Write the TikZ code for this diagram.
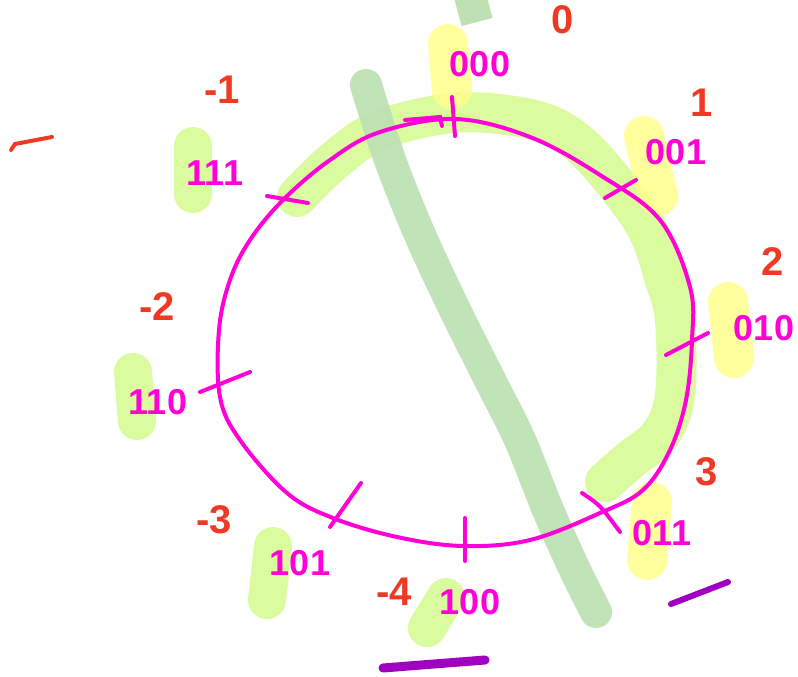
\documentclass[tikz,border=0pt]{standalone}
\usepackage{fontspec}
\setmainfont{Liberation Sans}
\definecolor{InkMagenta}{RGB}{255,0,214}
\definecolor{InkRed}{RGB}{238,58,36}
\definecolor{InkPurple}{RGB}{160,0,192}
\definecolor{HiYellow}{RGB}{255,255,140}
\definecolor{HiLime}{RGB}{218,251,158}
\definecolor{HiGreen}{RGB}{190,225,180}

\begin{document}
\begin{tikzpicture}[x=1pt,y=-1pt,
  bits/.style={text=InkMagenta,font=\fontsize{36}{36}\selectfont\bfseries,inner sep=0pt},
  val/.style={text=InkRed,font=\fontsize{40}{40}\selectfont\bfseries,inner sep=0pt},
  hlzero/.style={HiYellow,line width=40pt,line cap=round,opacity=.85},
  hlone/.style={HiLime,line width=38pt,line cap=round},
  cut/.style={InkMagenta,line width=4pt,line cap=round},
  underline/.style={InkPurple,line cap=round}]
  \clip (0,0) rectangle (798,677);
  % wide lime band over the right half
  \draw[HiLime,line width=40pt,line cap=round] plot[smooth,tension=0.6] coordinates
    {(297,197) (335,160) (380,130) (453,113) (520,117) (563,132) (600,165)
     (645,225) (665,280) (675,320) (675,395) (660,435) (630,460) (605,482)};
  % the split line
  \draw[HiGreen,line width=32pt,line cap=round,opacity=.95] plot[smooth] coordinates
    {(366,85) (390,160) (420,235) (455,310) (490,380) (520,440) (548,510) (575,570) (596,612)};
  \draw[HiGreen,line width=32pt] (477,22) -- (468,-12);
  % marks behind the leading bit
  \draw[hlzero] (448,44) -- (452,90);
  \draw[hlzero] (644,136) -- (658,196);
  \draw[hlzero] (728,302) -- (734,358);
  \draw[hlzero] (652,502) -- (647,560);
  \draw[hlone] (446,597) -- (427,628);
  \draw[hlone] (273,546) -- (267,600);
  \draw[hlone] (133,372) -- (137,421);
  \draw[hlone] (193,146) -- (193,194);
  % the ring
  \draw[InkMagenta,line width=4pt] plot[smooth cycle,tension=0.6] coordinates
    {(455,119) (530,137) (600,175) (660,220) (690,287) (692,340) (686,400)
     (670,450) (643,490) (600,513) (530,540) (463,546) (397,537) (333,518)
     (287,493) (240,440) (220,397) (219,330) (230,280) (250,240) (283,200)
     (330,160) (380,132)};
  \draw[cut] (405,120) -- (440,117) -- (442,126);
  \draw[cut] (452,97) -- (455,136);
  \draw[cut] (605,198) -- (636,180);
  \draw[cut] (666,355) -- (708,333);
  \draw[cut] (582,493) .. controls (600,505) .. (620,532);
  \draw[cut] (465,518) -- (465,561);
  \draw[cut] (330,527) -- (361,483);
  \draw[cut] (200,392) -- (250,372);
  \draw[cut] (267,196) -- (308,203);
  % codes
  \node[bits] (b000) at (480,64) {000};
  \node[bits] (b001) at (676,152) {001};
  \node[bits] (b010) at (764,328) {010};
  \node[bits] (b011) at (662,533) {011};
  \node[bits] (b100) at (470,602) {100};
  \node[bits] (b101) at (300,563) {101};
  \node[bits] (b110) at (158,402) {110};
  \node[bits] (b111) at (215,173) {111};
  % values
  \node[val] (v0) at (563,20) {0};
  \node[val] (v1) at (702,103) {1};
  \node[val] (v2) at (773,262) {2};
  \node[val] (v3) at (707,472) {3};
  \node[val] (v4) at (394,592) {-4};
  \node[val] (v5) at (214,520) {-3};
  \node[val] (v6) at (157,307) {-2};
  \node[val] (v7) at (222,90) {-1};
  \draw[InkRed,line width=4pt,line cap=round] (11,150) -- (15,144) -- (52,137);
  % underlines
  \draw[underline,line width=9pt] (383,668) -- (485,660);
  \draw[underline,line width=6pt] (671,604) -- (728,582);
\end{tikzpicture}
\end{document}
